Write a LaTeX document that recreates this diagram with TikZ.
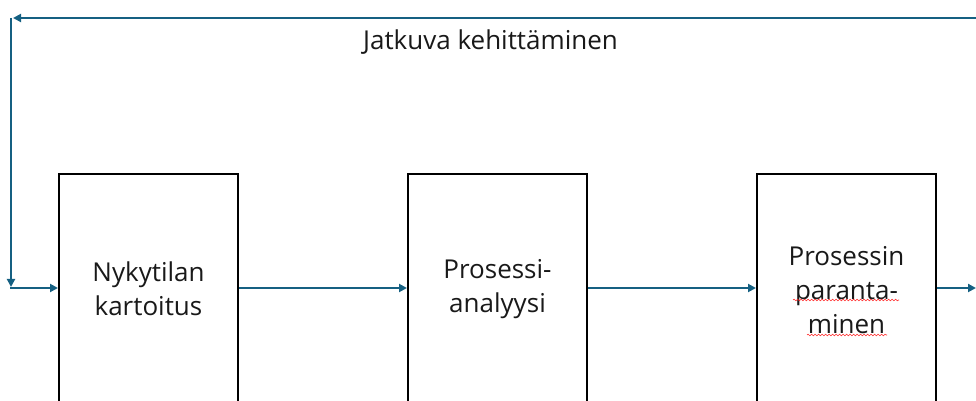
\documentclass[tikz,border=0pt]{standalone}
\usepackage{fontspec}
\setmainfont{Open Sans}
\usetikzlibrary{arrows.meta,decorations.pathmorphing}
\definecolor{flowblue}{HTML}{156082}
\tikzset{
  stage/.style={draw=black, line width=2pt, minimum width=179pt, minimum height=260pt, inner sep=0pt},
  stagetext/.style={align=center, font=\fontsize{26}{34}\selectfont, text=black!90},
  flow/.style={draw=flowblue, line width=2pt, -{Triangle[length=8pt,width=8pt]}},
  spell/.style={draw=red!85, line width=0.6pt, decorate, decoration={snake, amplitude=0.8pt, segment length=3.5pt}}
}
\begin{document}
\begin{tikzpicture}[x=1pt,y=1pt]
  \useasboundingbox (0,0) rectangle (976,401);
  \clip (0,0) rectangle (976,401);

  % stage boxes (they run on below the lower edge)
  \node[stage] (b1) at (148.5,97) {};
  \node[stage] (b2) at (497.5,97) {};
  \node[stage] (b3) at (846.5,97) {};

  \node[stagetext] (t1) at (148.5,112) {Nykytilan\\kartoitus};
  \node[stagetext] (t2) at (497.5,112) {Prosessi-\\analyysi};
  \node[stagetext] (t3) at (846.5,111) {Prosessin\\paranta-\\minen};

  % flow row and feedback loop corners
  \coordinate (row) at (0,113);
  \coordinate (loopR) at (976,383);
  \coordinate (loopTL) at (13,383);
  \coordinate (loopVT) at (11,383);
  \coordinate (loopVB) at (11,114);
  \coordinate (loopBL) at (10,113);
  \coordinate (outR) at (976,113);

  \draw[flow] (b1.east |- row) -- (b2.west |- row);
  \draw[flow] (b2.east |- row) -- (b3.west |- row);
  \draw[flow] (b3.east |- row) -- (outR);

  \draw[flow] (loopR) -- (loopTL);
  \draw[flow] (loopVT) -- (loopVB);
  \draw[flow] (loopBL) -- (b1.west |- row);

  \node[anchor=base, font=\fontsize{26}{30}\selectfont, text=black!90] (loopLabel) at (490.5,351) {Jatkuva kehittäminen};

  % spell-check squiggles
  \draw[spell] (793,101) -- (899,101);
  \draw[spell] (807,66) -- (887,66);
\end{tikzpicture}
\end{document}
